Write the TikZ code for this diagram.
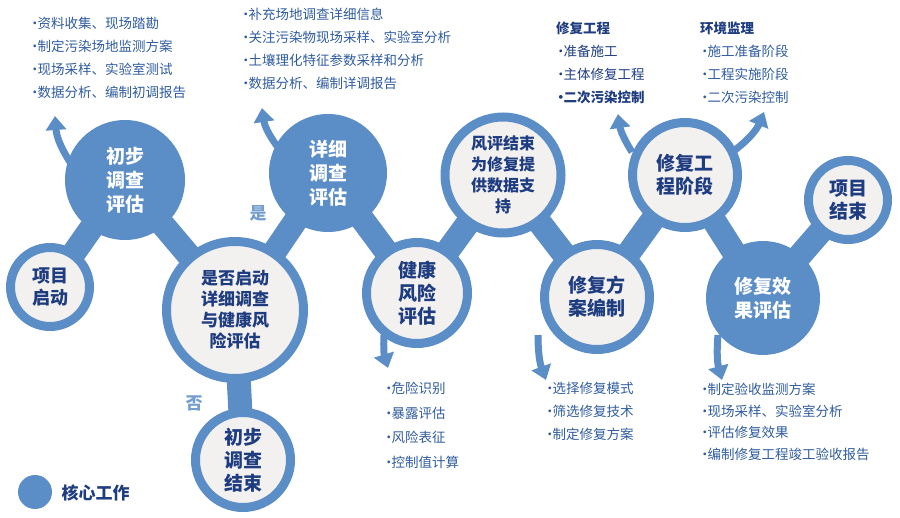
\documentclass[tikz,border=0pt]{standalone}
\usepackage{fontspec}
\newfontfamily\cjk{Noto Sans CJK SC}
\usetikzlibrary{arrows.meta}
\definecolor{cblue}{HTML}{5B8DC7}
\definecolor{clight}{HTML}{F3F0F0}
\definecolor{navy}{HTML}{1E3C80}
\definecolor{ltxt}{HTML}{2F5C9E}
\newcommand{\bul}{\kern-2pt·\kern-4pt}
\begin{document}
\begin{tikzpicture}[x=1pt,y=-1pt,
  band/.style={line width=24pt,cblue},
  ring/.style={circle,fill=clight,draw=cblue,line width=9pt,inner sep=0pt,align=center,text=navy,font=\cjk\bfseries\fontsize{19}{23}\selectfont},
  solid/.style={circle,fill=cblue,inner sep=0pt,align=center,text=white,font=\cjk\bfseries\fontsize{19}{24}\selectfont},
  fat/.style={cblue,line width=7pt,-{Triangle[length=14pt,width=20pt]}},
  list/.style={anchor=north west,align=left,text=ltxt,font=\cjk\fontsize{13.5}{23}\selectfont,inner sep=0pt},
  yn/.style={text=cblue!85!white,font=\cjk\bfseries\fontsize{17}{18}\selectfont}]
\useasboundingbox (0,0) rectangle (900,518);
\coordinate (pA) at (50,287);
\coordinate (pB) at (125,180);
\coordinate (pC) at (235,310);
\coordinate (pD) at (243,460);
\coordinate (pE) at (328,173);
\coordinate (pF) at (417,293);
\coordinate (pG) at (503,175);
\coordinate (pH) at (597,297);
\coordinate (pI) at (685,175);
\coordinate (pJ) at (763,298);
\coordinate (pK) at (848,200);
\draw[band] (pA) -- (pB) -- (pC) -- (pE) -- (pF) -- (pG) -- (pH) -- (pI) -- (pJ) -- (pK);
\draw[band] (pC) -- (pD);
\draw[fat] (72,165) to[bend left=15] (55,116);
\draw[fat] (280,150) to[bend left=15] (262,108);
\draw[fat] (384,335) to[bend right=10] (388,368);
\draw[fat] (538,335) to[bend right=10] (546,380);
\draw[fat] (632,152) to[bend left=12] (618,114);
\draw[fat] (735,150) to[bend right=15] (764,112);
\draw[fat] (718,335) to[bend right=10] (722,380);
\node[ring,minimum size=79pt,font=\cjk\bfseries\fontsize{18}{22}\selectfont] (nA) at (pA) {项目\\启动};
\node[solid,minimum size=120pt] (nB) at (pB) {初步\\调查\\评估};
\node[ring,minimum size=137pt,font=\cjk\bfseries\fontsize{17}{21}\selectfont] (nC) at (pC) {是否启动\\详细调查\\与健康风\\险评估};
\node[ring,minimum size=95pt] (nD) at (pD) {初步\\调查\\结束};
\node[solid,minimum size=118pt] (nE) at (pE) {详细\\调查\\评估};
\node[ring,minimum size=101pt] (nF) at (pF) {健康\\风险\\评估};
\node[ring,minimum size=116pt,font=\cjk\bfseries\fontsize{16}{21}\selectfont] (nG) at (pG) {风评结束\\为修复提\\供数据支\\持};
\node[ring,minimum size=105pt] (nH) at (pH) {修复方\\案编制};
\node[ring,minimum size=105pt] (nI) at (pI) {修复工\\程阶段};
\node[solid,minimum size=114pt] (nJ) at (pJ) {修复效\\果评估};
\node[ring,minimum size=79pt] (nK) at (pK) {项目\\结束};
\node[yn] (yes) at (258,213) {是};
\node[yn] (no) at (194,403) {否};
\node[list] (l1) at (30,17) {\bul 资料收集、现场踏勘\\\bul 制定污染场地监测方案\\\bul 现场采样、实验室测试\\\bul 数据分析、编制初调报告};
\node[list] (l2) at (241,8) {\bul 补充场地调查详细信息\\\bul 关注污染物现场采样、实验室分析\\\bul 土壤理化特征参数采样和分析\\\bul 数据分析、编制详调报告};
\node[list,text=navy] (l3) at (556,22) {\textbf{修复工程}\\\bul 准备施工\\\bul 主体修复工程\\\textbf{\bul 二次污染控制}};
\node[list] (l4) at (700,22) {\textbf{\color{navy}环境监理}\\\bul 施工准备阶段\\\bul 工程实施阶段\\\bul 二次污染控制};
\node[list,font=\cjk\fontsize{13.5}{24.5}\selectfont] (l5) at (384,382) {\bul 危险识别\\\bul 暴露评估\\\bul 风险表征\\\bul 控制值计算};
\node[list] (l6) at (545,382) {\bul 选择修复模式\\\bul 筛选修复技术\\\bul 制定修复方案};
\node[list,font=\cjk\fontsize{13.5}{21.5}\selectfont] (l7) at (700,383) {\bul 制定验收监测方案\\\bul 现场采样、实验室分析\\\bul 评估修复效果\\\bul 编制修复工程竣工验收报告};
\node[circle,fill=cblue,minimum size=34pt,inner sep=0pt] (leg) at (35,492) {};
\node[anchor=west,text=navy,font=\cjk\bfseries\fontsize{17}{18}\selectfont] (legt) at (58,493) {核心工作};
\end{tikzpicture}
\end{document}
